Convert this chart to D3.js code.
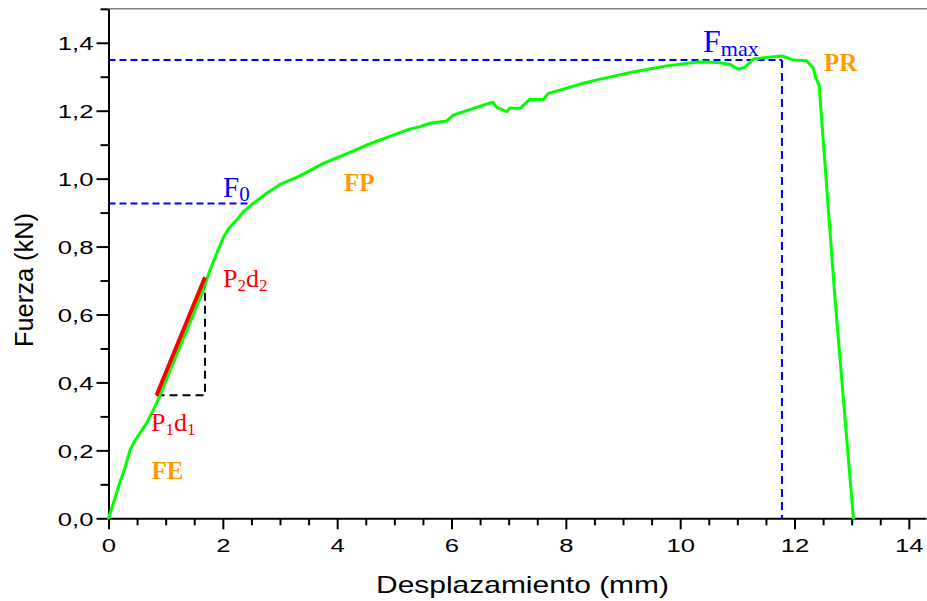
<!DOCTYPE html>
<html>
<head>
<meta charset="utf-8">
<script src="https://cdn.jsdelivr.net/npm/d3@7"></script>
<style>
  html, body { margin: 0; padding: 0; background: #ffffff; }
  svg { display: block; }
</style>
</head>
<body>
<svg id="chart" width="927" height="601"></svg>
<script>
// ---- data ----
const dispMm = [0, 0.1, 0.2, 0.3, 0.376, 0.46, 0.668, 0.843, 1.018, 1.25, 1.48, 1.658,
  1.775, 1.893, 2.008, 2.095, 2.24, 2.358, 2.533, 2.767, 3.0, 3.35, 3.757, 4.107, 4.516,
  4.982, 5.216, 5.449, 5.624, 5.916, 6.03, 6.381, 6.72, 6.79, 6.965, 7.02, 7.2, 7.373,
  7.605, 7.693, 8.015, 8.305, 8.6, 9.15, 9.764, 10.347, 10.64, 10.87, 11.016, 11.13,
  11.28, 11.513, 11.776, 11.86, 11.98, 12.21, 12.33, 12.375, 12.43, 12.45, 12.71, 13.03];
const forceKN = [0, 0.052, 0.106, 0.155, 0.201, 0.228, 0.28, 0.339, 0.41, 0.505, 0.598, 0.672,
  0.731, 0.780, 0.826, 0.852, 0.878, 0.903, 0.927, 0.957, 0.983, 1.008, 1.045, 1.069, 1.099,
  1.128, 1.143, 1.153, 1.163, 1.170, 1.187, 1.207, 1.225, 1.210, 1.197, 1.207, 1.207, 1.234,
  1.233, 1.251, 1.266, 1.281, 1.293, 1.313, 1.332, 1.344, 1.342, 1.337, 1.322, 1.328,
  1.352, 1.357, 1.361, 1.357, 1.349, 1.347, 1.325, 1.295, 1.276, 1.231, 0.643, 0.0];

const xMajorTicks = [0, 2, 4, 6, 8, 10, 12, 14];
const xMinorTicks = [0.5, 1, 1.5, 2.5, 3, 3.5, 4.5, 5, 5.5, 6.5, 7, 7.5, 8.5, 9, 9.5, 10.5, 11, 11.5, 12.5, 13, 13.5];
const yMajorTicks = [0, 0.2, 0.4, 0.6, 0.8, 1.0, 1.2, 1.4];
const yMinorTicks = [0.1, 0.3, 0.5, 0.7, 0.9, 1.1, 1.3, 1.5];

// reference levels
const f0Level = 0.927;      // F0
const f0Disp = 2.53;
const fmaxLevel = 1.349;    // Fmax
const fmaxDisp = 11.78;
const p1 = [0.84, 0.362];   // P1 d1
const p2 = [1.688, 0.710];  // P2 d2

const xTitle = "Desplazamiento (mm)";
const yTitle = "Fuerza (kN)";

// ---- drawing ----
const svg = d3.select("#chart");
const x = d3.scaleLinear().domain([0, 14.3]).range([108.5, 926]);
const y = d3.scaleLinear().domain([0, 1.5]).range([518.3, 8.8]);
const fmt = v => d3.format(".1f")(v).replace(".", ",");

// top frame line
svg.append("line")
  .attr("x1", x(0)).attr("x2", 927)
  .attr("y1", y(1.5)).attr("y2", y(1.5))
  .attr("stroke", "#808080").attr("stroke-width", 1.5);

// minor ticks
const xMinor = svg.append("g").attr("transform", `translate(0,${y(0)})`)
  .call(d3.axisBottom(x).tickValues(xMinorTicks).tickSize(7).tickFormat(""));
const yMinor = svg.append("g").attr("transform", `translate(${x(0)},0)`)
  .call(d3.axisLeft(y).tickValues(yMinorTicks).tickSize(8).tickFormat(""));
[xMinor, yMinor].forEach(g => {
  g.select(".domain").remove();
  g.selectAll("line").attr("stroke", "#000").attr("stroke-width", 2);
});

// major axes
const xAxis = svg.append("g").attr("transform", `translate(0,${y(0)})`)
  .call(d3.axisBottom(x).tickValues(xMajorTicks).tickSize(11).tickSizeOuter(0).tickFormat(d3.format("d")));
const yAxis = svg.append("g").attr("transform", `translate(${x(0)},0)`)
  .call(d3.axisLeft(y).tickValues(yMajorTicks).tickSize(12).tickSizeOuter(0).tickFormat(fmt));
[xAxis, yAxis].forEach(g => {
  g.select(".domain").attr("stroke", "#000").attr("stroke-width", 2);
  g.selectAll("line").attr("stroke", "#000").attr("stroke-width", 2);
  g.selectAll("text").attr("fill", "#000")
    .style("font-family", "'Liberation Sans', Arial, sans-serif").style("font-size", "19px");
});
const sx = 1.35;
xAxis.selectAll("text").attr("y", 33.4).attr("dy", null)
  .attr("transform", `scale(${sx},1)`);
yAxis.selectAll("text").attr("x", -15 / sx).attr("dy", "0.36em")
  .attr("transform", `scale(${sx},1)`);

// axis titles
svg.append("text").text(xTitle)
  .attr("x", 376).attr("y", 593)
  .attr("textLength", 293).attr("lengthAdjust", "spacingAndGlyphs")
  .style("font-family", "'Liberation Sans', Arial, sans-serif").style("font-size", "24px");
svg.append("text").text(yTitle)
  .attr("transform", "translate(33,280) rotate(-90)")
  .attr("text-anchor", "middle")
  .attr("textLength", 134).attr("lengthAdjust", "spacingAndGlyphs")
  .style("font-family", "'Liberation Sans', Arial, sans-serif").style("font-size", "25px");

// dashed reference lines
svg.append("line")
  .attr("x1", x(0)).attr("x2", x(f0Disp)).attr("y1", y(f0Level)).attr("y2", y(f0Level))
  .attr("stroke", "#0000ff").attr("stroke-width", 2).attr("stroke-dasharray", "7,4");
svg.append("line")
  .attr("x1", x(0)).attr("x2", x(fmaxDisp)).attr("y1", y(fmaxLevel)).attr("y2", y(fmaxLevel))
  .attr("stroke", "#0000ff").attr("stroke-width", 2).attr("stroke-dasharray", "7,4");
svg.append("line")
  .attr("x1", x(fmaxDisp)).attr("x2", x(fmaxDisp)).attr("y1", y(fmaxLevel)).attr("y2", y(0))
  .attr("stroke", "#0000ff").attr("stroke-width", 2).attr("stroke-dasharray", "8,5");
svg.append("path")
  .attr("d", d3.line()([[x(p1[0]), y(p1[1])], [x(p2[0]), y(p1[1])], [x(p2[0]), y(p2[1])]]))
  .attr("fill", "none").attr("stroke", "#000").attr("stroke-width", 2).attr("stroke-dasharray", "8,5");

// curve
const pts = dispMm.map((d, i) => [d, forceKN[i]]);
svg.append("path")
  .datum(pts)
  .attr("d", d3.line().x(d => x(d[0])).y(d => y(d[1])))
  .attr("fill", "none").attr("stroke", "#00ff00").attr("stroke-width", 3)
  .attr("stroke-linejoin", "round").attr("stroke-linecap", "round");

// slope segment
svg.append("line")
  .attr("x1", x(p1[0])).attr("y1", y(p1[1])).attr("x2", x(p2[0])).attr("y2", y(p2[1]))
  .attr("stroke", "#ff0000").attr("stroke-width", 4);

// annotations
const serif = "'Liberation Serif', 'Times New Roman', serif";
function subLabel(xp, yp, color, mainSize, subSize, parts) {
  const t = svg.append("text").attr("x", xp).attr("y", yp)
    .attr("fill", color).style("font-family", serif).style("font-size", mainSize + "px");
  parts.forEach(p => {
    t.append("tspan").text(p[0]).style("font-size", (p[1] ? subSize : mainSize) + "px")
      .attr("dy", p[1] ? 4 : (p[2] || 0));
  });
}
subLabel(223, 197, "#0000ff", 29, 21, [["F", false], ["0", true]]);
subLabel(703, 52, "#0000ff", 32, 22, [["F", false], ["max", true]]);
subLabel(223, 286.5, "#ff0000", 26, 17, [["P", false], ["2", true], ["d", false, -4], ["2", true]]);
subLabel(151, 431, "#ff0000", 26, 17, [["P", false], ["1", true], ["d", false, -4], ["1", true]]);

const orange = "#ff9900";
[["FE", 151.5, 478.5], ["FP", 344, 190.5], ["PR", 824, 70.5]].forEach(l => {
  svg.append("text").text(l[0]).attr("x", l[1]).attr("y", l[2])
    .attr("fill", orange).style("font-family", serif).style("font-weight", "bold").style("font-size", "25px");
});
</script>
</body>
</html>
